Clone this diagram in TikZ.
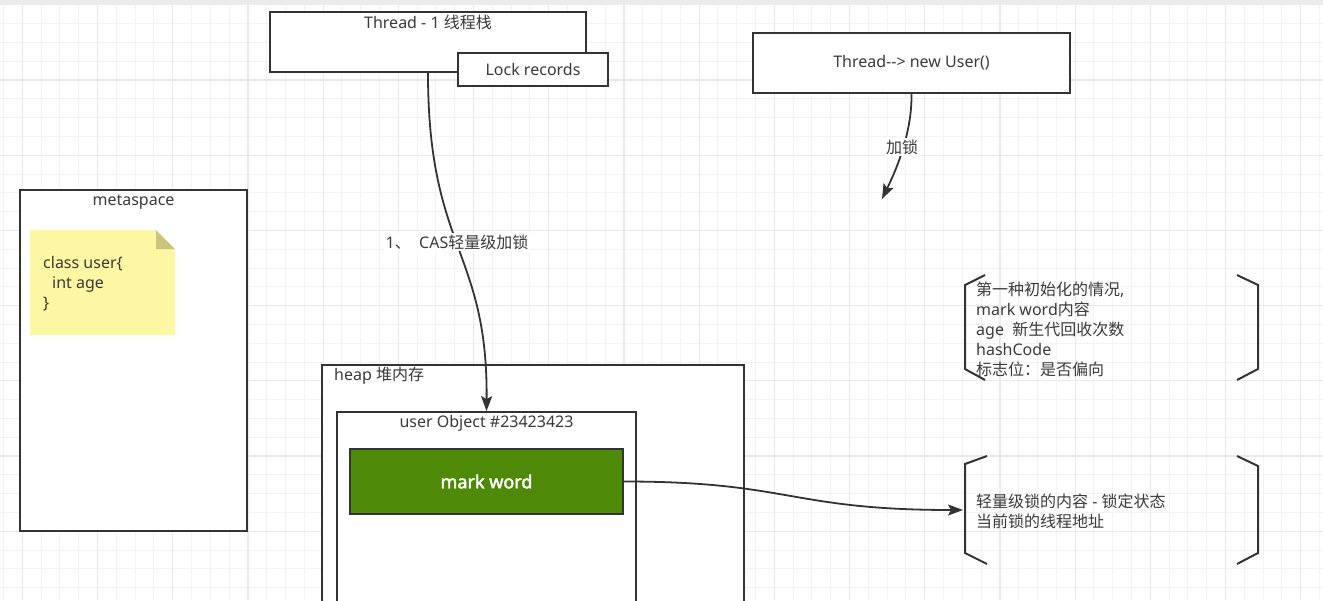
\documentclass[tikz,border=0pt]{standalone}
\usepackage{fontspec}
\setmainfont{Noto Sans}
\newfontfamily\cjk{Noto Sans CJK SC}
\newfontfamily\markfont{Noto Sans}[FakeBold=2.2]
\usetikzlibrary{arrows.meta}
\definecolor{linecol}{HTML}{333333}
\definecolor{textcol}{HTML}{3A3A3A}
\definecolor{gridminor}{HTML}{F3F3F3}
\definecolor{gridmajor}{HTML}{E9E9E9}
\definecolor{markgreen}{HTML}{4E8A08}
\definecolor{notefill}{HTML}{FDF6A3}
\definecolor{foldcol}{HTML}{C9C57A}
\definecolor{stripcol}{HTML}{ECECEC}
\tikzset{
  box/.style={draw=linecol, line width=1.8pt, fill=white, inner sep=0pt},
  txt/.style={text=textcol, font=\fontsize{16}{20}\selectfont, inner sep=1pt},
  edge/.style={draw=linecol, line width=1.8pt, -{Stealth[length=15pt,width=11pt,inset=3pt]}},
  elabel/.style={txt, fill=white, inner sep=1.5pt},
  bracket/.style={draw=linecol, line width=2pt, line join=miter},
  gminor/.style={draw=gridminor, line width=1pt},
  gmajor/.style={draw=gridmajor, line width=1.2pt},
}
\begin{document}
\begin{tikzpicture}[x=1pt, y=-1pt]
\useasboundingbox (0,0) rectangle (1323,600);
\clip (0,0) rectangle (1323,600);
\fill[white] (0,0) rectangle (1323,600);
% grid
\foreach \i in {0,...,70} {
  \draw[gminor] ({3.5+\i*18.8},0) -- ++(0,600);
}
\foreach \i in {0,...,32} {
  \draw[gminor] (0,{4.8+\i*18.8}) -- ++(1323,0);
}
\foreach \i in {0,...,17} {
  \draw[gmajor] ({22.3+\i*75.2},0) -- ++(0,600);
}
\foreach \i in {0,...,8} {
  \draw[gmajor] (0,{4.8+\i*75.2}) -- ++(1323,0);
}
\fill[stripcol] (0,0) rectangle (1323,5);

% thread stack
\node[box, minimum width=316pt, minimum height=60pt] (thread) at (428,42) {};
\node[txt] (threadlbl) at (428,22) {Thread - 1 {\cjk 线程栈}};
\node[box, txt, draw=linecol, minimum width=150pt, minimum height=33pt] (lock) at (533,69.5) {Lock records};

% new user thread
\node[box, txt, draw=linecol, minimum width=317pt, minimum height=60pt] (newuser) at (911.5,63) {Thread-{}-{}> new User()};
\coordinate (lockend) at (882,199);

% metaspace
\node[box, minimum width=227pt, minimum height=341pt] (meta) at (133.5,360.5) {};
\node[txt] (metalbl) at (133.5,202) {metaspace};
\fill[notefill] (30,230) -- (156,230) -- (175,249) -- (175,335) -- (30,335) -- cycle;
\fill[foldcol] (156,230) -- (175,249) -- (156,249) -- cycle;
\node[txt, anchor=west, align=left] (note) at (42,284) {class user\{\\\hspace{9pt}int age\\\}};

% heap
\node[box, minimum width=422pt, minimum height=260pt] (heap) at (533,495) {};
\node[txt, anchor=west] (heaplbl) at (333,376) {heap {\cjk 堆内存}};
\node[box, minimum width=299pt, minimum height=220pt] (userobj) at (486.5,522) {};
\node[txt] (userlbl) at (486.5,423) {user Object \#23423423};
\node[box, fill=markgreen, text=white, font=\markfont\fontsize{18}{22}\selectfont, minimum width=273pt, minimum height=65pt] (mark) at (486.5,481.5) {mark word};

% brackets
\draw[bracket] (985,275) -- (965,285) -- (965,369) -- (985,380);
\draw[bracket] (1237,275) -- (1258,285) -- (1258,369) -- (1237,380);
\node[txt, anchor=west, align=left] (info1) at (975,329.5) {{\cjk 第一种初始化的情况},\\mark word{\cjk 内容}\\age\ \ {\cjk 新生代回收次数}\\hashCode\\{\cjk 标志位：是否偏向}};
\draw[bracket] (987,456) -- (965,464) -- (965,553) -- (987,564);
\draw[bracket] (1237,456) -- (1258,466) -- (1258,553) -- (1237,564);
\node[txt, anchor=west, align=left] (info2) at (975,511.5) {{\cjk 轻量级锁的内容} - {\cjk 锁定状态}\\{\cjk 当前锁的线程地址}};
\coordinate (brk2) at (963,510);

% connectors
\draw[edge] (thread.south) .. controls (428,250) and (488,250) .. (userobj.north);
\node[elabel] (caslbl) at (457,242) {1{\cjk 、}\ \ CAS{\cjk 轻量级加锁}};
\draw[edge] (newuser.south) .. controls (912,125) and (902,158) .. (lockend);
\node[elabel] (jslbl) at (902,147) {{\cjk 加锁}};
\draw[edge] (mark.east) .. controls (790,481.5) and (790,510) .. (brk2);
\end{tikzpicture}
\end{document}
